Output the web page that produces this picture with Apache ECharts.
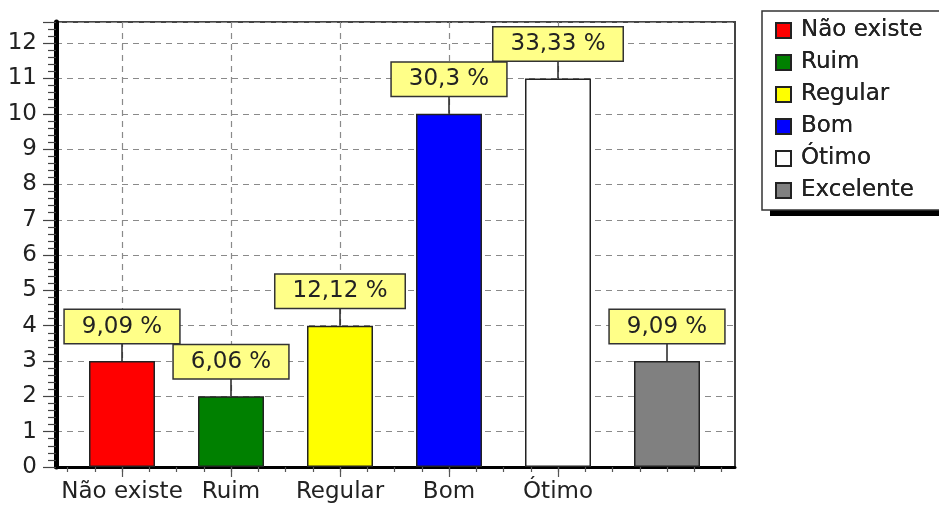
<!DOCTYPE html>
<html>
<head>
<meta charset="utf-8">
<script src="https://cdn.jsdelivr.net/npm/echarts@6/dist/echarts.min.js"></script>
<style>
  html, body { margin: 0; padding: 0; background: #fff; }
  #chart { width: 939px; height: 506px; }
</style>
</head>
<body>
<div id="chart"></div>
<script>
// data
const categories = ['Não existe', 'Ruim', 'Regular', 'Bom', 'Ótimo', 'Excelente']
const counts = [3, 2, 4, 10, 11, 3]
const percents = ['9,09 %', '6,06 %', '12,12 %', '30,3 %', '33,33 %', '9,09 %']
const colors = ['#ff0000', '#008000', '#ffff00', '#0000ff', '#ffffff', '#808080']
const yTicks = [0, 1, 2, 3, 4, 5, 6, 7, 8, 9, 10, 11, 12]

const font = 'DejaVu Sans'
const dash = { color: '#8a8a8a', width: 1.2, type: [6, 5] }
const yMax = 12.6
const frame = { top: 22, bottom: 39 }

const chart = echarts.init(document.getElementById('chart'))

// one bar series per category so the legend lists every category
const barSeries = categories.map((name, i) => ({
  name, type: 'bar', xAxisIndex: 2, yAxisIndex: 2,
  barWidth: 66, barGap: '-100%', clip: false,
  data: counts.map((v, j) => (j === i ? v : '-')),
  itemStyle: { color: colors[i], borderColor: '#222', borderWidth: 1.5 },
  label: {
    show: true, position: 'top', distance: 18,
    formatter: p => percents[p.dataIndex],
    fontFamily: font, fontSize: 23, color: '#222',
    backgroundColor: '#ffff88', borderColor: '#333', borderWidth: 1.5,
    padding: [5, 17, 5, 17]
  }
}))

// legend drawn twice: once for the white box with its hard shadow, once for the border
const legendBase = {
  data: categories, orient: 'vertical', left: 762, top: 11,
  padding: [8, 70, 8, 13], itemWidth: 15, itemHeight: 15, itemGap: 9,
  icon: 'rect', selectedMode: false,
  textStyle: { fontFamily: font, fontSize: 23, color: '#222', padding: [0, 0, 0, 5] }
}

chart.setOption({
  backgroundColor: '#fff',
  animation: false,
  grid: [
    { left: 56, width: 679, ...frame, show: true, borderColor: '#444', borderWidth: 2, backgroundColor: 'transparent' },
    { left: 67.5, width: 654, ...frame },
    { left: 122, width: 545, ...frame }
  ],
  legend: [
    { ...legendBase, backgroundColor: '#fff', borderWidth: 0,
      shadowColor: '#000', shadowBlur: 0, shadowOffsetX: 8, shadowOffsetY: 6 },
    { ...legendBase, backgroundColor: 'transparent', borderColor: '#333', borderWidth: 1.5 }
  ],
  xAxis: [
    { gridIndex: 0, type: 'value', min: 0, max: 1, axisLabel: { show: false }, axisTick: { show: false },
      splitLine: { show: false }, axisLine: { show: true, lineStyle: { color: '#000', width: 3 } } },
    { gridIndex: 1, type: 'value', min: 0, max: 24, interval: 1, axisLabel: { show: false },
      splitLine: { show: false }, axisLine: { show: false },
      axisTick: { show: true, length: 5, lineStyle: { color: '#555', width: 1.2 } } },
    { gridIndex: 2, type: 'category', data: categories, boundaryGap: false,
      axisLine: { show: false },
      axisTick: { show: true, length: 10, lineStyle: { color: '#555', width: 1.2 } },
      splitLine: { show: true, lineStyle: dash },
      axisLabel: { interval: (idx) => idx < 5, margin: 14, fontFamily: font, fontSize: 23, color: '#222' } }
  ],
  yAxis: [
    { gridIndex: 0, type: 'value', min: 0, max: yMax, interval: 1,
      axisLine: { show: true, lineStyle: { color: '#000', width: 5 } },
      axisTick: { show: true, length: 13, lineStyle: { color: '#444', width: 1.2 } },
      minorTick: { show: true, splitNumber: 5, length: 8, lineStyle: { color: '#444', width: 1.2 } },
      splitLine: { show: true, lineStyle: dash },
      axisLabel: { margin: 19, showMaxLabel: false, fontFamily: font, fontSize: 23, color: '#222',
        formatter: v => (yTicks.includes(v) ? String(v) : '') } },
    { gridIndex: 1, type: 'value', min: 0, max: yMax, show: false },
    { gridIndex: 2, type: 'value', min: 0, max: yMax, show: false }
  ],
  series: [
    ...barSeries,
    {
      // leader lines from bar top to its label box
      type: 'custom', xAxisIndex: 2, yAxisIndex: 2, silent: true, clip: false,
      data: counts.map((v, i) => [i, v]),
      renderItem: (params, api) => {
        const p = api.coord([api.value(0), api.value(1)])
        return { type: 'line', shape: { x1: p[0], y1: p[1], x2: p[0], y2: p[1] - 18 },
          style: { stroke: '#222', lineWidth: 1.5 } }
      }
    }
  ]
})
</script>
</body>
</html>
